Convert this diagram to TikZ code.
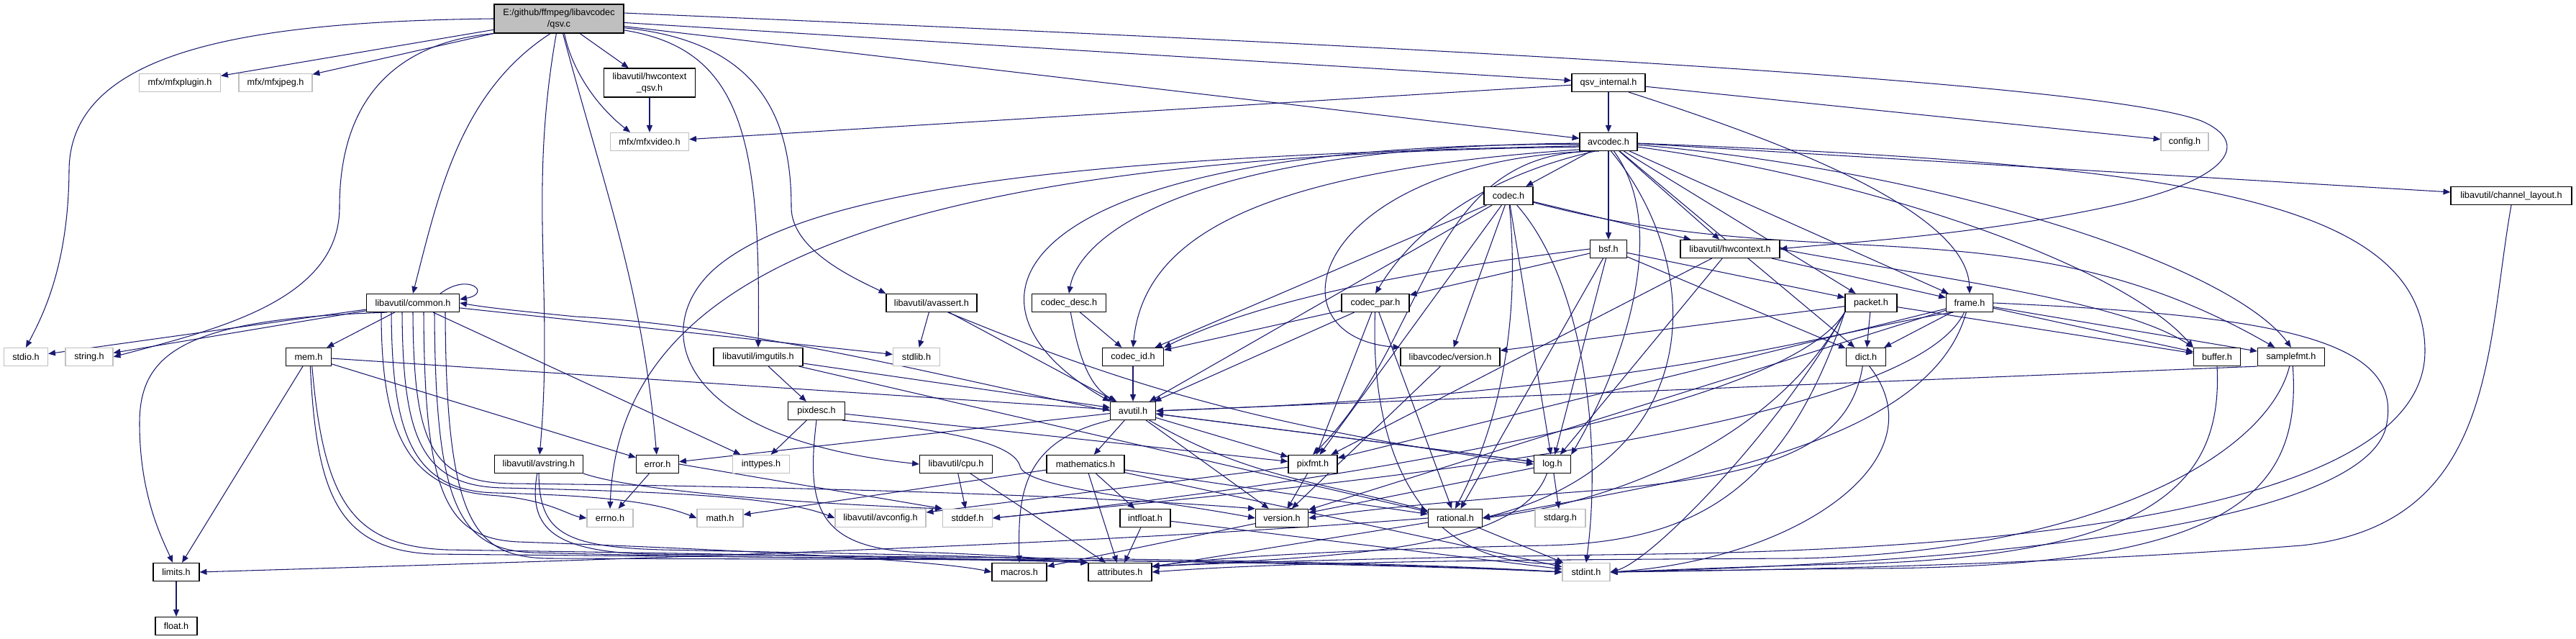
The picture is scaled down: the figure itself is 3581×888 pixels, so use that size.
\documentclass[tikz,border=0pt]{standalone}
\usepackage{fontspec}
\usepackage{tikz}
\usetikzlibrary{
  arrows.meta,
  calc,
  backgrounds
}
\newfontfamily\incfam{Liberation Sans}
\definecolor{dgEdge}{HTML}{191970}
\definecolor{dgGray}{HTML}{BFBFBF}
\tikzset{
  hdr/.style={
    draw=black, line width=0.7pt, fill=white, inner sep=0pt,
    minimum height=0.5cm, align=center,
    font=\incfam\fontsize{7.2}{9}\selectfont
  },
  syshdr/.style={hdr, draw=dgGray},
  roothdr/.style={hdr, fill=dgGray},
  twoline/.style={minimum height=0.8cm},
  wd/.style={minimum width=#1*0.02cm},
  dep/.style={-{Triangle[length=5.6pt,width=4.6pt]}, draw=dgEdge, line width=0.6pt}
}

\begin{document}
\begin{tikzpicture}[x=0.02cm, y=0.02cm]
  \useasboundingbox (0,0) rectangle (3581,888);

  % files, one row of the graph per block
  \node[roothdr, twoline, wd=180] (qsv) at (777,862) {E:/github/ffmpeg/libavcodec\\/qsv.c};

  \node[syshdr, wd=113] (mfxplugin) at (250,773) {mfx/mfxplugin.h};
  \node[syshdr, wd=102] (mfxjpeg) at (383,773) {mfx/mfxjpeg.h};
  \node[hdr, twoline, wd=127] (hwqsv) at (903,773) {libavutil/hwcontext\\\_qsv.h};
  \node[hdr, wd=102] (qsvint) at (2236,773) {qsv\_internal.h};

  \node[syshdr, wd=109] (mfxvideo) at (903,691) {mfx/mfxvideo.h};
  \node[hdr, wd=80] (avcodec) at (2236,691) {avcodec.h};
  \node[syshdr, wd=66] (config) at (3037,691) {config.h};

  \node[hdr, wd=68] (codec) at (2097,616) {codec.h};
  \node[hdr, wd=168] (chlayout) at (3491,616) {libavutil/channel\_layout.h};

  \node[hdr, wd=51] (bsf) at (2236,542) {bsf.h};
  \node[hdr, wd=138] (hwctx) at (2405,542) {libavutil/hwcontext.h};

  \node[hdr, wd=129] (common) at (574,467) {libavutil/common.h};
  \node[hdr, wd=126] (avassert) at (1295,467) {libavutil/avassert.h};
  \node[hdr, wd=103] (codecdesc) at (1486,467) {codec\_desc.h};
  \node[hdr, wd=94] (codecpar) at (1912,467) {codec\_par.h};
  \node[hdr, wd=72] (packet) at (2601,467) {packet.h};
  \node[hdr, wd=65] (frame) at (2738,467) {frame.h};

  \node[syshdr, wd=61] (stdio) at (36,392) {stdio.h};
  \node[syshdr, wd=66] (string) at (124,392) {string.h};
  \node[hdr, wd=63] (mem) at (429,392) {mem.h};
  \node[hdr, wd=124] (imgutils) at (1054,392) {libavutil/imgutils.h};
  \node[syshdr, wd=65] (stdlib) at (1274,392) {stdlib.h};
  \node[hdr, wd=85] (codecid) at (1575,392) {codec\_id.h};
  \node[hdr, wd=138] (lavcver) at (2016,392) {libavcodec/version.h};
  \node[hdr, wd=55] (dict) at (2594,392) {dict.h};
  \node[hdr, wd=65] (buffer) at (3082,392) {buffer.h};
  \node[hdr, wd=93] (samplefmt) at (3185,392) {samplefmt.h};

  \node[hdr, wd=79] (pixdesc) at (1135,317) {pixdesc.h};
  \node[hdr, wd=63] (avutil) at (1575,317) {avutil.h};

  \node[hdr, wd=123] (avstring) at (749,243) {libavutil/avstring.h};
  \node[hdr, wd=59] (error) at (914,243) {error.h};
  \node[syshdr, wd=79] (inttypes) at (1058,243) {inttypes.h};
  \node[hdr, wd=101] (cpu) at (1329,243) {libavutil/cpu.h};
  \node[hdr, wd=108] (mathematics) at (1509,243) {mathematics.h};
  \node[hdr, wd=68] (pixfmt) at (1825,243) {pixfmt.h};
  \node[hdr, wd=51] (log) at (2158,243) {log.h};

  \node[syshdr, wd=64] (errno) at (848,168) {errno.h};
  \node[syshdr, wd=64] (math) at (1001,168) {math.h};
  \node[syshdr, wd=126] (avconfig) at (1224,168) {libavutil/avconfig.h};
  \node[syshdr, wd=69] (stddef) at (1345,168) {stddef.h};
  \node[hdr, wd=70] (intfloat) at (1592,168) {intfloat.h};
  \node[hdr, wd=73] (version) at (1782,168) {version.h};
  \node[hdr, wd=75] (rational) at (2023,168) {rational.h};
  \node[syshdr, wd=70] (stdarg) at (2169,168) {stdarg.h};

  \node[hdr, wd=64] (limits) at (245,93) {limits.h};
  \node[hdr, wd=76] (macros) at (1417,93) {macros.h};
  \node[hdr, wd=88] (attributes) at (1557,93) {attributes.h};
  \node[syshdr, wd=66] (stdint) at (2205,93) {stdint.h};

  \node[hdr, wd=58] (float) at (245,18) {float.h};

  \begin{scope}[on background layer]
    % qsv.c
    \draw[dep] (qsv.west) .. controls (350,858) and (96,820) .. (96,650) .. controls (95,520) and (60,450) .. (stdio.north);
    \draw[dep] (qsv) -- (mfxplugin);
    \draw[dep] (qsv) -- (mfxjpeg);
    \draw[dep] (qsv.south west) .. controls (560,830) and (472,760) .. (472,600) .. controls (472,470) and (300,430) .. (string.east);
    \draw[dep] (qsv.240) .. controls (640,760) and (610,620) .. (common.north);
    \draw[dep] (qsv) to[out=-100,in=85] (avstring);
    \draw[dep] (qsv) to[out=-75,in=95] (error);
    \draw[dep] (qsv) -- (hwqsv);
    \draw[dep] (qsv.290) .. controls (795,790) and (830,740) .. (mfxvideo.154);
    \draw[dep] (qsv.-10) .. controls (1030,820) and (1058,700) .. (imgutils.north);
    \draw[dep] (qsv.-8) .. controls (1060,830) and (1100,720) .. (1100,600) .. controls (1100,540) and (1190,500) .. (avassert.north west);
    \draw[dep] (qsv) -- (qsvint);
    \draw[dep] (qsv) -- (avcodec);
    \draw[dep] (qsv.5) .. controls (1800,830) and (2900,780) .. (3060,720) .. controls (3130,690) and (3100,640) .. (2950,605) .. controls (2750,560) and (2550,550) .. (hwctx.east);

    % qsv_internal.h, hwcontext_qsv.h
    \draw[dep] (qsvint) -- (mfxvideo);
    \draw[dep] (qsvint) -- (config);
    \draw[dep] (qsvint) -- (avcodec);
    \draw[dep] (qsvint.-25) .. controls (2450,700) and (2735,600) .. (frame.north);
    \draw[dep] (hwqsv) -- (mfxvideo);

    % avcodec.h
    \draw[dep] (avcodec) -- (codec);
    \draw[dep] (avcodec) -- (bsf);
    \draw[dep] (avcodec) -- (hwctx);
    \draw[dep] (avcodec) -- (packet);
    \draw[dep] (avcodec) -- (frame);
    \draw[dep] (avcodec) -- (dict);
    \draw[dep] (avcodec) -- (chlayout);
    \draw[dep] (avcodec.-10) .. controls (2600,640) and (2950,520) .. (buffer.north west);
    \draw[dep] (avcodec.-6) .. controls (2700,650) and (3100,520) .. (samplefmt.north);
    \draw[dep] (avcodec.190) .. controls (1200,670) and (860,500) .. (errno.north);
    \draw[dep] (avcodec.188) .. controls (1600,672) and (1150,640) .. (1000,520) .. controls (900,440) and (930,280) .. (cpu.west);
    \draw[dep] (avcodec.185) .. controls (1400,690) and (1300,470) .. (avutil.north west);
    \draw[dep] (avcodec.183) .. controls (1650,685) and (1500,560) .. (codecdesc.north);
    \draw[dep] (avcodec.195) .. controls (1750,650) and (1590,560) .. (codecid.north);
    \draw[dep] (avcodec.205) .. controls (1820,660) and (1760,420) .. (lavcver.north west);
    \draw[dep] (avcodec.215) .. controls (2050,640) and (1960,560) .. (codecpar.north);
    \draw[dep] (avcodec.225) .. controls (1980,680) and (1990,420) .. (pixfmt.north);
    \draw[dep] (avcodec.-60) .. controls (2330,560) and (2240,350) .. (log.north east);
    \draw[dep] (avcodec.-75) .. controls (2370,520) and (2380,250) .. (rational.east);
    \draw[dep] (avcodec.-3) .. controls (3000,660) and (3371,620) .. (3371,400) .. controls (3371,180) and (2800,125) .. (2300,118) .. controls (2000,114) and (1750,108) .. (attributes.10);

    % codec.h, bsf.h
    \draw[dep] (codec) .. controls (2200,500) and (2228,280) .. (stdint.north);
    \draw[dep] (codec) -- (avutil);
    \draw[dep] (codec) -- (hwctx);
    \draw[dep] (codec) -- (log);
    \draw[dep] (codec) -- (pixfmt);
    \draw[dep] (codec) .. controls (2110,480) and (2100,330) .. (rational.north);
    \draw[dep] (codec) to[out=-15,in=150] (samplefmt);
    \draw[dep] (codec) -- (codecid);
    \draw[dep] (codec) -- (lavcver);
    \draw[dep] (bsf) -- (dict);
    \draw[dep] (bsf) -- (log);
    \draw[dep] (bsf) -- (rational);
    \draw[dep] (bsf.west) .. controls (1950,510) and (1750,470) .. (codecid.north east);
    \draw[dep] (bsf) -- (codecpar);
    \draw[dep] (bsf) -- (packet);

    % codec_desc.h, codec_id.h, codec_par.h, libavcodec/version.h
    \draw[dep] (codecdesc.-80) .. controls (1500,390) and (1515,350) .. (avutil.150);
    \draw[dep] (codecdesc) -- (codecid);
    \draw[dep] (codecid) -- (avutil);
    \draw[dep] (codecpar) -- (codecid);
    \draw[dep] (codecpar) -- (avutil);
    \draw[dep] (codecpar) -- (rational);
    \draw[dep] (codecpar) -- (pixfmt);
    \draw[dep] (codecpar) .. controls (1905,280) and (1960,100) .. (stdint.160);
    \draw[dep] (lavcver) -- (version);

    % packet.h, frame.h, hwcontext.h
    \draw[dep] (packet) -- (lavcver);
    \draw[dep] (packet) -- (dict);
    \draw[dep] (packet) -- (buffer);
    \draw[dep] (packet.south west) .. controls (2470,300) and (1700,200) .. (stddef.east);
    \draw[dep] (packet.south west) .. controls (2480,300) and (2300,110) .. (stdint.east);
    \draw[dep] (packet.south west) .. controls (2480,200) and (2350,135) .. (2150,130) .. controls (1900,125) and (1700,115) .. (attributes.10);
    \draw[dep] (packet.south west) .. controls (2470,280) and (2250,190) .. (rational.east);
    \draw[dep] (frame.-150) .. controls (2550,430) and (2300,340) .. (avutil.east);
    \draw[dep] (frame) -- (buffer);
    \draw[dep] (frame) -- (dict);
    \draw[dep] (frame) -- (samplefmt);
    \draw[dep] (frame) -- (pixfmt);
    \draw[dep] (frame) -- (version);
    \draw[dep] (frame.-120) .. controls (2650,280) and (1750,205) .. (stddef.east);
    \draw[dep] (frame.-110) .. controls (2680,260) and (2300,215) .. (rational.east);
    \draw[dep] (frame.east) .. controls (3150,450) and (3340,420) .. (3318,300) .. controls (3300,180) and (2900,110) .. (stdint.east);
    \draw[dep] (hwctx.east) .. controls (2700,500) and (2950,470) .. (buffer.north west);
    \draw[dep] (hwctx) -- (frame);
    \draw[dep] (hwctx) -- (log);
    \draw[dep] (hwctx) -- (pixfmt);

    % avutil.h
    \draw[dep] (avutil.west) .. controls (1350,355) and (1050,435) .. (800,448) .. controls (720,456) and (680,460) .. (common.east);
    \draw[dep] (avutil) -- (error);
    \draw[dep] (avutil) to[out=-30,in=165] (rational);
    \draw[dep] (avutil) -- (version);
    \draw[dep] (avutil.south west) .. controls (1420,275) and (1415,200) .. (macros.north);
    \draw[dep] (avutil) -- (mathematics);
    \draw[dep] (avutil) -- (log);
    \draw[dep] (avutil) -- (pixfmt);

    % common.h
    \draw[dep] ($(common.north east)+(-27,0)$) .. controls +(40,30) and +(45,8) .. ($(common.east)+(0,5)$);
    \draw[dep] (common) -- (stdio);
    \draw[dep] (common) -- (string);
    \draw[dep] (common) -- (mem);
    \draw[dep] (common) -- (stdlib);
    \draw[dep] (common) -- (inttypes);
    \draw[dep] (common.200) .. controls (260,445) and (194,400) .. (194,300) .. controls (194,200) and (225,140) .. (limits.110);
    \draw[dep] ($(common.south)+(-44,0)$) .. controls (530,300) and (560,210) .. (680,200) .. controls (760,195) and (790,172) .. (errno.west);
    \draw[dep] ($(common.south)+(-30,0)$) .. controls (545,290) and (570,205) .. (690,203) .. controls (800,200) and (900,195) .. (math.west);
    \draw[dep] ($(common.south)+(-15,0)$) .. controls (560,280) and (585,212) .. (700,210) .. controls (900,205) and (1080,200) .. (avconfig.west);
    \draw[dep] (common.south) .. controls (575,270) and (600,218) .. (710,216) .. controls (1100,212) and (1500,200) .. (version.north west);
    \draw[dep] ($(common.south)+(15,0)$) .. controls (590,200) and (620,140) .. (720,135) .. controls (1000,125) and (1300,110) .. (macros.west);
    \draw[dep] ($(common.south)+(30,0)$) .. controls (605,180) and (640,125) .. (740,120) .. controls (1050,112) and (1350,112) .. (attributes.north west);
    \draw[dep] ($(common.south)+(45,0)$) .. controls (620,160) and (660,115) .. (760,112) .. controls (1300,110) and (1800,112) .. (stdint.west);

    % mem.h, avassert.h, imgutils.h, pixdesc.h
    \draw[dep] (mem) -- (limits);
    \draw[dep] (mem) -- (error);
    \draw[dep] (mem) -- (avutil);
    \draw[dep] (mem.-80) .. controls (440,200) and (470,125) .. (600,118) .. controls (1200,112) and (1800,110) .. (stdint.west);
    \draw[dep] (mem.-70) .. controls (450,190) and (490,130) .. (620,124) .. controls (1000,118) and (1300,114) .. (attributes.north west);
    \draw[dep] (avassert) -- (stdlib);
    \draw[dep] (avassert) -- (avutil);
    \draw[dep] (avassert.-30) .. controls (1500,380) and (1700,300) .. (log.west);
    \draw[dep] (imgutils) -- (avutil);
    \draw[dep] (imgutils) -- (pixdesc);
    \draw[dep] (imgutils) -- (rational);
    \draw[dep] (pixdesc) -- (inttypes);
    \draw[dep] (pixdesc) -- (pixfmt);
    \draw[dep] (pixdesc.-20) .. controls (1330,290) and (1410,270) .. (1418,240) .. controls (1425,210) and (1600,195) .. (version.west);
    \draw[dep] (pixdesc.south) .. controls (1120,180) and (1135,120) .. (1300,120) .. controls (1420,115) and (1480,110) .. (attributes.north west);

    % avstring.h, error.h, cpu.h, mathematics.h, intfloat.h
    \draw[dep] (avstring.south east) .. controls (900,200) and (1200,185) .. (stddef.north west);
    \draw[dep] (avstring.-100) .. controls (735,160) and (760,122) .. (900,118) .. controls (1400,113) and (1900,110) .. (stdint.west);
    \draw[dep] (avstring.-90) .. controls (750,150) and (780,128) .. (920,124) .. controls (1200,118) and (1400,116) .. (attributes.north west);
    \draw[dep] (error) -- (errno);
    \draw[dep] (error.east) -- (stddef.north west);
    \draw[dep] (cpu) -- (stddef);
    \draw[dep] (cpu) -- (attributes);
    \draw[dep] (mathematics) -- (stdint);
    \draw[dep] (mathematics) -- (math);
    \draw[dep] (mathematics) -- (attributes);
    \draw[dep] (mathematics) -- (rational);
    \draw[dep] (mathematics) -- (intfloat);
    \draw[dep] (intfloat) -- (stdint);
    \draw[dep] (intfloat) -- (attributes);

    % pixfmt.h, log.h, version.h, rational.h
    \draw[dep] (pixfmt) -- (avconfig);
    \draw[dep] (pixfmt) -- (version);
    \draw[dep] (log) -- (stdarg);
    \draw[dep] (log) -- (avutil);
    \draw[dep] (log) -- (version);
    \draw[dep] (log.240) .. controls (2110,120) and (1850,115) .. (attributes.10);
    \draw[dep] (version) -- (macros);
    \draw[dep] (rational) -- (stdint);
    \draw[dep] (rational.west) .. controls (1500,130) and (900,112) .. (limits.east);
    \draw[dep] (rational) -- (attributes);

    % dict.h, buffer.h, samplefmt.h, channel_layout.h, limits.h
    \draw[dep] (dict.-110) .. controls (2570,260) and (2450,225) .. (2200,205) .. controls (2000,190) and (1900,180) .. (version.east);
    \draw[dep] (dict.-70) .. controls (2700,250) and (2500,110) .. (stdint.east);
    \draw[dep] (buffer.south) .. controls (3090,220) and (3000,120) .. (2600,105) .. controls (2400,100) and (2300,95) .. (stdint.east);
    \draw[dep] (samplefmt.-80) .. controls (3200,200) and (3100,100) .. (2600,98) .. controls (2400,96) and (2300,94) .. (stdint.east);
    \draw[dep] (samplefmt.south west) -- (avutil.east);
    \draw[dep] (samplefmt.-100) .. controls (3150,250) and (2900,120) .. (2500,112) .. controls (2100,110) and (1800,108) .. (attributes.east);
    \draw[dep] (chlayout.south) .. controls (3455,400) and (3470,160) .. (3200,130) .. controls (2800,100) and (2400,95) .. (stdint.east);
    \draw[dep] (limits) -- (float);
  \end{scope}
\end{tikzpicture}
\end{document}
